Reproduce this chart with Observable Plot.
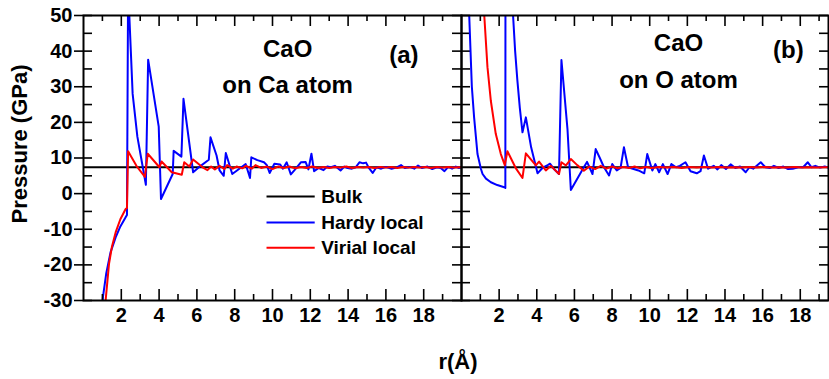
<!DOCTYPE html>
<html>
<head>
<meta charset="utf-8">
<script src="https://cdn.jsdelivr.net/npm/d3@7"></script>
<script src="https://cdn.jsdelivr.net/npm/@observablehq/plot@0.6"></script>
<style>
  html, body { margin: 0; padding: 0; background: #fff; overflow: hidden; }
  #wrap { position: relative; width: 829px; height: 379px; font-family: 'Liberation Sans', Arial, sans-serif; }
  #wrap svg { position: absolute; top: 0; overflow: visible; background: none; }
  .lbl { position: absolute; font-weight: bold; color: #000; white-space: nowrap; }
</style>
</head>
<body>
<div id="wrap"></div>
<script>
// ---------- data ----------
const bulkPressure = 7.4;

const hardyA_r = [0.98, 1.03, 1.2, 1.43, 1.7, 1.95, 2.23, 2.3, 2.36, 2.6, 2.85, 3.05, 3.3, 3.42, 3.98, 4.1, 4.72, 4.77, 5.18, 5.29, 5.8, 6.2, 6.63, 6.72, 7.04, 7.2, 7.42, 7.53, 7.87, 8.3, 8.58, 8.81, 8.88, 9.2, 9.55, 9.7, 9.85, 10.1, 10.4, 10.55, 10.75, 10.97, 11.2, 11.5, 11.75, 11.9, 12.06, 12.2, 12.45, 12.7, 12.9, 13.09, 13.3, 13.6, 13.8, 13.97, 14.2, 14.4, 14.6, 14.8, 14.95, 15.1, 15.3, 15.5, 15.75, 16.0, 16.3, 16.55, 16.8, 17.0, 17.25, 17.5, 17.7, 17.9, 18.2, 18.45, 18.7, 18.9, 19.1, 19.3, 19.5, 19.7, 19.85, 20.0];
const hardyA_p = [-33, -29, -22.5, -16.5, -12.3, -9.2, -6.6, -6.0, 58, 28, 16, 10, 2.5, 37.6, 18.8, -1.5, 5.5, 12, 10.4, 26.6, 6, 7.8, 9.5, 15.8, 10.7, 6.5, 5.0, 11.4, 5.5, 7.2, 8.3, 4.4, 10.2, 9.4, 8.8, 8.0, 5.8, 8.4, 8.2, 7.0, 8.8, 5.4, 6.8, 8.8, 8.9, 6.8, 11.2, 6.3, 7.2, 6.6, 7.6, 7.4, 7.8, 6.5, 7.6, 7.2, 7.0, 7.4, 8.8, 8.5, 8.7, 7.2, 5.8, 7.4, 7.0, 7.5, 7.0, 7.3, 8.0, 7.2, 7.5, 7.0, 7.9, 7.2, 7.6, 6.9, 7.4, 7.2, 6.3, 7.5, 7.0, 7.6, 7.2, 7.4];

const virialA_r = [1.12, 1.17, 1.35, 1.5, 1.7, 1.95, 2.23, 2.3, 2.36, 2.8, 3.25, 3.4, 4.02, 4.13, 4.67, 5.2, 5.33, 5.6, 5.8, 6.3, 6.56, 6.75, 6.95, 7.2, 7.45, 7.6, 7.9, 8.1, 8.4, 8.6, 8.9, 9.1, 9.4, 9.7, 10.0, 10.3, 10.6, 10.9, 11.2, 11.5, 11.8, 12.1, 12.4, 12.7, 13.0, 13.3, 13.6, 13.9, 14.2, 14.5, 14.8, 15.1, 15.4, 15.7, 16.0, 16.3, 16.6, 16.9, 17.2, 17.5, 17.8, 18.1, 18.4, 18.7, 19.0, 19.3, 19.6, 20.0];
const virialA_p = [-33, -30, -19.7, -15, -10.9, -7.2, -4.3, -4.0, 11.9, 7.8, 4.7, 11.2, 7.4, 9.0, 6.0, 5.3, 8.8, 7.6, 9.6, 7.4, 6.6, 7.6, 6.8, 7.8, 6.9, 8.0, 7.0, 7.6, 7.1, 7.8, 7.0, 8.0, 7.2, 7.6, 6.9, 7.6, 7.2, 7.6, 7.1, 7.5, 7.2, 7.6, 7.2, 7.5, 7.2, 7.5, 7.3, 7.6, 7.2, 7.5, 7.3, 7.5, 7.2, 7.5, 7.3, 7.5, 7.2, 7.5, 7.3, 7.5, 7.3, 7.5, 7.2, 7.5, 7.3, 7.5, 7.3, 7.4];

const hardyB_r = [0.38, 0.41, 0.55, 0.67, 0.85, 1.03, 1.12, 1.3, 1.56, 1.9, 2.27, 2.33, 2.36, 2.5, 2.6, 2.74, 2.85, 2.97, 3.1, 3.24, 3.42, 3.7, 4.04, 4.3, 4.55, 4.7, 4.9, 5.18, 5.31, 5.63, 5.81, 6.5, 6.67, 6.96, 7.13, 7.35, 7.57, 7.84, 8.01, 8.25, 8.45, 8.63, 8.85, 9.1, 9.4, 9.71, 9.87, 10.14, 10.3, 10.5, 10.7, 10.95, 11.15, 11.4, 11.6, 11.9, 12.17, 12.5, 12.7, 12.88, 13.1, 13.4, 13.6, 13.8, 14.05, 14.3, 14.55, 14.8, 15.1, 15.3, 15.5, 15.9, 16.15, 16.4, 16.6, 16.85, 17.1, 17.35, 17.6, 17.9, 18.15, 18.4, 18.6, 18.8, 19.05, 19.3, 19.5];
const hardyB_p = [60, 50, 30, 21.4, 11.1, 7.0, 5.5, 4.2, 3.2, 2.4, 1.8, 1.6, 300, 120, 80, 50, 40, 31.7, 24, 17.2, 21.4, 13, 5.7, 7.2, 7.9, 8.4, 7.0, 5.5, 37.5, 18.2, 1.0, 7.4, 8.9, 5.5, 12.5, 10, 7.4, 5.1, 8.3, 6.5, 7.2, 13, 7.4, 7.0, 6.5, 5.7, 11.1, 6.5, 8.3, 6.0, 8.3, 5.5, 8.3, 7.4, 7.8, 8.8, 6.3, 5.7, 6.3, 10.7, 7.0, 7.8, 6.8, 8.0, 6.9, 8.2, 7.2, 7.6, 6.0, 7.4, 7.0, 8.8, 7.4, 7.2, 7.8, 7.2, 7.6, 6.9, 7.0, 7.4, 7.4, 8.8, 7.4, 7.8, 7.3, 7.6, 7.3];

const virialB_r = [1.15, 1.21, 1.38, 1.56, 1.82, 2.09, 2.3, 2.44, 2.9, 3.24, 3.42, 3.95, 4.12, 4.48, 4.75, 5.18, 5.31, 5.55, 5.81, 6.15, 6.5, 6.8, 7.1, 7.4, 7.7, 8.0, 8.3, 8.6, 8.9, 9.2, 9.5, 9.8, 10.1, 10.5, 10.9, 11.3, 11.7, 12.1, 12.5, 12.9, 13.3, 13.7, 14.1, 14.5, 14.9, 15.3, 15.7, 16.1, 16.5, 16.9, 17.3, 17.7, 18.1, 18.5, 18.9, 19.3, 19.5];
const virialB_p = [60, 50, 35.5, 26, 16.8, 11.1, 8.0, 11.9, 7.0, 4.4, 11.3, 7.9, 9.0, 6.5, 7.8, 5.5, 8.8, 7.9, 9.7, 8.0, 6.4, 7.6, 6.9, 7.8, 7.0, 7.6, 7.1, 7.5, 7.2, 7.6, 7.1, 7.5, 7.2, 7.5, 7.3, 7.5, 7.2, 7.5, 7.3, 7.5, 7.3, 7.5, 7.3, 7.4, 7.3, 7.5, 7.3, 7.5, 7.3, 7.4, 7.3, 7.5, 7.3, 7.4, 7.3, 7.4, 7.4];

const xTickLabels = [2, 4, 6, 8, 10, 12, 14, 16, 18];
const xMinorTicks = [1, 3, 5, 7, 9, 11, 13, 15, 17, 19];
const yTickLabels = [50, 40, 30, 20, 10, 0, -10, -20, -30];
const yMinorTicks = [45, 35, 25, 15, 5, -5, -15, -25];
const legendLabels = ["Bulk", "Hardy local", "Virial local"];
const legendColors = ["#000000", "#0000ff", "#ff0000"];
const seriesColors = {hardy: "#0000ff", virial: "#ff0000", bulk: "#000000"};

// ---------- helpers ----------
const toRows = (rs, ps) => rs.map((r, i) => ({r, p: ps[i]}));
const H = 379, MT = 15, MB = 79;
const FH = H - MT - MB; // frame height
const yDomain = [-30, 50];
const font = "'Liberation Sans', Arial, sans-serif";

function axisMarks(FW, opts) {
  const m = [];
  const xMaj = xTickLabels, xMin = xMinorTicks.filter(v => v < opts.xmax);
  // bottom ticks (inward)
  m.push(Plot.tickX(xMaj, {x: d => d, insetTop: FH - 11, stroke: "black", strokeWidth: 1.6}));
  m.push(Plot.tickX(xMin, {x: d => d, insetTop: FH - 6, stroke: "black", strokeWidth: 1.6}));
  // top ticks (inward)
  m.push(Plot.tickX(xMaj, {x: d => d, insetBottom: FH - 11, stroke: "black", strokeWidth: 1.6}));
  m.push(Plot.tickX(xMin, {x: d => d, insetBottom: FH - 6, stroke: "black", strokeWidth: 1.6}));
  const yAll = yTickLabels.concat(yMinorTicks);
  if (opts.left) {
    m.push(Plot.tickY(yTickLabels, {y: d => d, insetLeft: -9, insetRight: FW - 9, stroke: "black", strokeWidth: 1.6}));
    m.push(Plot.tickY(yMinorTicks, {y: d => d, insetLeft: 0, insetRight: FW - 9, stroke: "black", strokeWidth: 1.6}));
  }
  if (opts.middle) {
    m.push(Plot.tickY(yAll, {y: d => d, insetLeft: FW - 9, insetRight: -9, stroke: "black", strokeWidth: 1.6}));
  }
  if (opts.rightIn) {
    m.push(Plot.tickY(yAll, {y: d => d, insetLeft: FW - 9, insetRight: 0, stroke: "black", strokeWidth: 1.6}));
  }
  // x tick labels
  m.push(Plot.text(xTickLabels, {x: d => d, text: d => String(d), frameAnchor: "bottom", dy: 21,
    fontSize: 20, fontWeight: "bold", fill: "black"}));
  return m;
}

function panel({width, marginLeft, marginRight, xmax, hardy, virial, notes, left, middle, rightIn, legend}) {
  const FW = width - marginLeft - marginRight;
  const marks = [];
  marks.push(Plot.ruleY([bulkPressure], {y: d => d, stroke: seriesColors.bulk, strokeWidth: 2}));
  marks.push(Plot.line(hardy, {x: "r", y: "p", stroke: seriesColors.hardy, strokeWidth: 2, clip: true}));
  marks.push(Plot.line(virial, {x: "r", y: "p", stroke: seriesColors.virial, strokeWidth: 2, clip: true}));
  marks.push(...axisMarks(FW, {xmax, left, middle, rightIn}));
  if (left) {
    marks.push(Plot.text(yTickLabels, {y: d => d, text: d => String(d), frameAnchor: "left", dx: -11,
      textAnchor: "end", fontSize: 20, fontWeight: "bold", fill: "black"}));
  }
  marks.push(Plot.text(notes, {x: "x", y: "y", text: "t", fontSize: 24, fontWeight: "bold", fill: "black"}));
  if (legend) {
    const rows = legendLabels.map((l, i) => ({label: l, color: legendColors[i], y: legend.y[i]}));
    marks.push(Plot.ruleY(rows, {y: "y", x1: legend.x1, x2: legend.x2, stroke: "color", strokeWidth: 2}));
    marks.push(Plot.text(rows, {y: "y", x: legend.x2, text: "label", dx: 6, textAnchor: "start",
      fontSize: 19, fontWeight: "bold", fill: "black"}));
  }
  marks.push(Plot.frame({stroke: "black", strokeWidth: 2}));
  return Plot.plot({
    width, height: H, marginLeft, marginRight, marginTop: MT, marginBottom: MB,
    x: {domain: [0, xmax], axis: null},
    y: {domain: yDomain, axis: null},
    color: {type: "identity"},
    style: {background: "none", overflow: "visible", fontFamily: font},
    marks
  });
}

const wrap = document.getElementById("wrap");

const pa = panel({
  width: 461, marginLeft: 83, marginRight: 0, xmax: 20,
  hardy: toRows(hardyA_r, hardyA_p), virial: toRows(virialA_r, virialA_p),
  notes: [{x: 10.8, y: 40.6, t: "CaO"}, {x: 10.8, y: 30.3, t: "on Ca atom"}, {x: 16.95, y: 38.7, t: "(a)"}],
  left: true, middle: true, rightIn: false,
  legend: {x1: 9.71, x2: 12.26, y: [-0.84, -8.1, -15.2]}
});
pa.style.left = "0px";
wrap.appendChild(pa);

const pb = panel({
  width: 368, marginLeft: 0, marginRight: 1, xmax: 19.5,
  hardy: toRows(hardyB_r, hardyB_p), virial: toRows(virialB_r, virialB_p),
  notes: [{x: 11.53, y: 42.2, t: "CaO"}, {x: 11.53, y: 31.8, t: "on O atom"}, {x: 17.37, y: 40.1, t: "(b)"}],
  left: false, middle: false, rightIn: true, legend: null
});
pb.style.left = "461px";
wrap.appendChild(pb);

// axis titles
const yl = document.createElement("div");
yl.className = "lbl";
yl.textContent = "Pressure (GPa)";
yl.style.fontSize = "22px";
yl.style.left = "20px";
yl.style.top = "144px";
yl.style.transform = "translate(-50%, -50%) rotate(-90deg)";
wrap.appendChild(yl);

const xl = document.createElement("div");
xl.className = "lbl";
xl.textContent = "r(Å)";
xl.style.fontSize = "22px";
xl.style.left = "458px";
xl.style.top = "362px";
xl.style.transform = "translate(-50%, -50%)";
wrap.appendChild(xl);
</script>
</body>
</html>
